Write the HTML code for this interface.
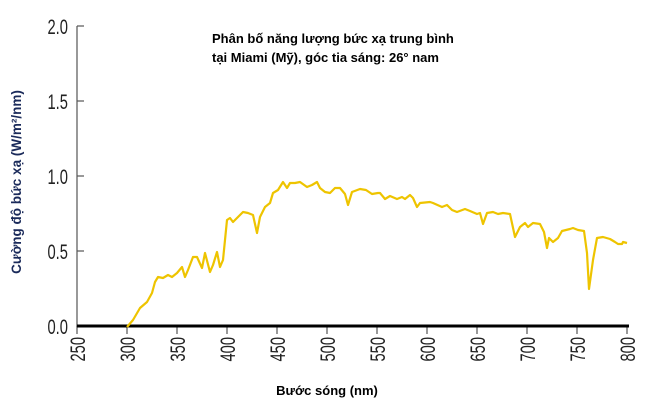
<!DOCTYPE html>
<html><head><meta charset="utf-8"><style>
body{margin:0;background:#fff;}
svg{display:block;}
.t{font-family:"Liberation Sans","Noto Sans CJK SC",sans-serif;font-weight:bold;font-size:13px;fill:#000;}
.n{font-family:"Liberation Sans",sans-serif;font-size:21px;fill:#222;}
</style></head><body>
<svg width="656" height="405" viewBox="0 0 656 405" xmlns="http://www.w3.org/2000/svg">
<rect width="656" height="405" fill="#fff"/>
<line x1="77" y1="26" x2="77" y2="327" stroke="#555" stroke-width="1.2"/>
<g stroke="#555" stroke-width="1.2">
<line x1="77" y1="26" x2="84" y2="26"/><line x1="77" y1="101" x2="84" y2="101"/>
<line x1="77" y1="176" x2="84" y2="176"/><line x1="77" y1="251" x2="84" y2="251"/>
<line x1="77" y1="326" x2="84" y2="326"/>
<line x1="77" y1="326" x2="77" y2="334"/><line x1="127" y1="326" x2="127" y2="334"/>
<line x1="177" y1="326" x2="177" y2="334"/><line x1="227" y1="326" x2="227" y2="334"/>
<line x1="277" y1="326" x2="277" y2="334"/><line x1="327" y1="326" x2="327" y2="334"/>
<line x1="377" y1="326" x2="377" y2="334"/><line x1="427" y1="326" x2="427" y2="334"/>
<line x1="477" y1="326" x2="477" y2="334"/><line x1="527" y1="326" x2="527" y2="334"/>
<line x1="577" y1="326" x2="577" y2="334"/><line x1="627" y1="326" x2="627" y2="334"/>
</g>
<line x1="77" y1="326" x2="629" y2="326" stroke="#000" stroke-width="3"/>
<g class="n" text-anchor="end" transform="scale(0.7,1)">
<text x="97" y="34">2.0</text><text x="97" y="109">1.5</text><text x="97" y="184">1.0</text>
<text x="97" y="259">0.5</text><text x="97" y="334">0.0</text>
</g>
<g class="n">
<text transform="translate(85,337) rotate(-90) scale(0.7,1)" text-anchor="end">250</text>
<text transform="translate(135,337) rotate(-90) scale(0.7,1)" text-anchor="end">300</text>
<text transform="translate(185,337) rotate(-90) scale(0.7,1)" text-anchor="end">350</text>
<text transform="translate(235,337) rotate(-90) scale(0.7,1)" text-anchor="end">400</text>
<text transform="translate(285,337) rotate(-90) scale(0.7,1)" text-anchor="end">450</text>
<text transform="translate(335,337) rotate(-90) scale(0.7,1)" text-anchor="end">500</text>
<text transform="translate(385,337) rotate(-90) scale(0.7,1)" text-anchor="end">550</text>
<text transform="translate(435,337) rotate(-90) scale(0.7,1)" text-anchor="end">600</text>
<text transform="translate(485,337) rotate(-90) scale(0.7,1)" text-anchor="end">650</text>
<text transform="translate(535,337) rotate(-90) scale(0.7,1)" text-anchor="end">700</text>
<text transform="translate(585,337) rotate(-90) scale(0.7,1)" text-anchor="end">750</text>
<text transform="translate(635,337) rotate(-90) scale(0.7,1)" text-anchor="end">800</text>
</g>
<polyline fill="none" stroke="#eec400" stroke-width="2.2" stroke-linejoin="round" points="
127,327 133,320 140,308 147,302 152,293 155,282 158,277 163,278 168,275 172,277 177,273 182,267 185,277 188,270 193,257 197,257 202,268 205,253 210,272 213,265 217,252 220,267 223,260 227,220 230,218 233,222 238,217 243,212 248,213 253,215 257,233 260,217 265,207 270,203 273,193 278,190 283,182 287,188 290,183 295,183 300,182 307,187 312,185 317,182 320,188 325,192 330,193 335,188 340,188 345,194 348,205 352,192 360,189 366,190 372,194 378,193 380,193 385,199 390,196 397,199 402,197 405,199 410,195 413,198 417,207 420,203 430,202 433,203 442,207 447,205 452,210 457,212 465,209 470,211 477,214 480,213 483,224 487,213 493,212 498,214 503,213 510,214 515,237 520,227 525,223 528,227 533,223 540,224 544,232 547,248 549,238 553,242 558,238 562,231 570,229 573,228 578,230 584,231 587,253 589,289 593,260 597,238 603,237 610,239 615,242 618,244 622,244 623,242 627,243"/>
<text class="t" x="212" y="43">Phân bố năng lượng bức xạ trung bình</text>
<text class="t" x="212" y="62">tại Miami (Mỹ), góc tia sáng: 26° nam</text>
<text class="t" text-anchor="middle" x="327" y="395">Bước sóng (nm)</text>
<text class="t" text-anchor="middle" transform="translate(21,182) rotate(-90)" style="fill:#1a2a5a;font-size:13.5px">Cường độ bức xạ  (W/m²/nm)</text>
</svg>
</body></html>
